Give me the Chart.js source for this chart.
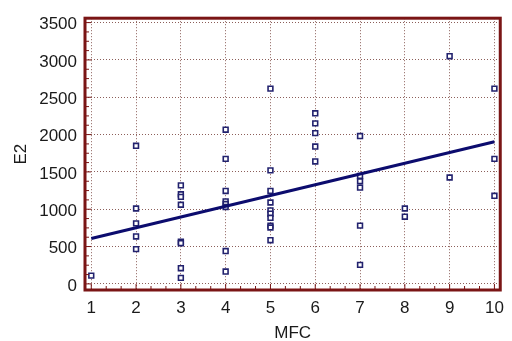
<!DOCTYPE html>
<html lang="en">
<head>
  <meta charset="UTF-8">
  <title>E2 vs MFC</title>
  <script src="https://cdn.jsdelivr.net/npm/chart.js"></script>
  <style>
    html, body { margin: 0; padding: 0; background: #fff; }
    #wrap { width: 512px; height: 341px; }
  </style>
</head>
<body>
<div id="wrap"><canvas id="chart" width="512" height="341"></canvas></div>
<script>
  // scatter points: MFC (x) and E2 (y)
  const mfc = [1,
    2, 2, 2, 2, 2,
    3, 3, 3, 3, 3, 3, 3, 3,
    4, 4, 4, 4, 4, 4, 4, 4,
    5, 5, 5, 5, 5, 5, 5, 5, 5, 5,
    6, 6, 6, 6, 6,
    7, 7, 7, 7, 7, 7,
    8, 8,
    9, 9,
    10, 10, 10];
  const e2 = [110,
    1850, 1010, 810, 635, 465,
    1320, 1200, 1165, 1060, 565, 545, 210, 80,
    2065, 1675, 1245, 1105, 1070, 1030, 440, 165,
    2615, 1520, 1245, 1090, 985, 940, 885, 780, 755, 585,
    2285, 2150, 2020, 1840, 1640,
    1980, 1445, 1375, 1290, 780, 255,
    1010, 900,
    3050, 1425,
    2615, 1675, 1180];

  // fitted line end points
  const fitX = [1, 10];
  const fitY = [607, 1903];

  const xTicks = [1, 2, 3, 4, 5, 6, 7, 8, 9, 10];
  const yTicks = [0, 500, 1000, 1500, 2000, 2500, 3000, 3500];

  const frameColor = '#7a1515';
  const gridColor = '#8c5f5a';
  const fontFamily = '"Liberation Sans", Arial, sans-serif';

  // frame round the plot plus small inner ticks on left and bottom
  const framePlugin = {
    id: 'frame',
    afterDraw(chart) {
      const { ctx, chartArea: a, scales } = chart;
      ctx.save();
      ctx.strokeStyle = frameColor;
      ctx.lineWidth = 1;
      // minor ticks on y
      for (let v = 0; v <= 3500; v += 125) {
        const y = scales.y.getPixelForValue(v);
        ctx.beginPath();
        ctx.moveTo(a.left, y);
        ctx.lineTo(a.left + (v % 500 === 0 ? 6 : 4), y);
        ctx.stroke();
      }
      // minor ticks on x
      for (let i = 0; i <= 27; i++) {
        const v = 1 + i / 3;
        const x = scales.x.getPixelForValue(v);
        ctx.beginPath();
        ctx.moveTo(x, a.bottom);
        ctx.lineTo(x, a.bottom - (i % 3 === 0 ? 6 : 4));
        ctx.stroke();
      }
      ctx.lineWidth = 3;
      ctx.strokeRect(a.left, a.top, a.right - a.left, a.bottom - a.top);
      ctx.restore();
    }
  };

  const points = mfc.map((x, i) => ({ x: x, y: e2[i] }));
  const fit = fitX.map((x, i) => ({ x: x, y: fitY[i] }));

  new Chart(document.getElementById('chart'), {
    type: 'scatter',
    data: {
      datasets: [
        {
          type: 'line',
          data: fit,
          borderColor: '#0c0c6e',
          borderWidth: 3,
          pointRadius: 0,
          fill: false
        },
        {
          data: points,
          pointStyle: 'rect',
          pointRadius: 3.4,
          pointBorderWidth: 1.6,
          pointBorderColor: '#22226e',
          pointBackgroundColor: '#ffffff'
        }
      ]
    },
    options: {
      responsive: false,
      animation: false,
      layout: { padding: { top: 12, right: 8, left: 0, bottom: 0 } },
      plugins: { legend: { display: false }, tooltip: { enabled: false } },
      scales: {
        x: {
          type: 'linear',
          min: 0.86,
          max: 10.13,
          afterBuildTicks: (s) => { s.ticks = xTicks.map(v => ({ value: v })); },
          afterFit: (s) => { s.height = 51; },
          grid: {
            color: gridColor,
            drawTicks: false
          },
          border: { display: false, dash: [1, 2] },
          ticks: {
            padding: 8,
            color: '#1a1a1a',
            font: { family: fontFamily, size: 17 },
            callback: (v) => String(v)
          },
          title: {
            display: true,
            text: 'MFC',
            color: '#1a1a1a',
            font: { family: fontFamily, size: 17 },
            padding: { top: 2, bottom: -3 }
          }
        },
        y: {
          min: -82,
          max: 3559,
          afterBuildTicks: (s) => { s.ticks = yTicks.map(v => ({ value: v })); },
          afterFit: (s) => { s.width = 85; },
          grid: {
            color: gridColor,
            drawTicks: false
          },
          border: { display: false, dash: [1, 2] },
          ticks: {
            padding: 8,
            labelOffset: 2,
            color: '#1a1a1a',
            font: { family: fontFamily, size: 17 },
            callback: (v) => String(v)
          },
          title: {
            display: true,
            text: 'E2',
            color: '#1a1a1a',
            font: { family: fontFamily, size: 17 },
            padding: { top: 11, bottom: 2 }
          }
        }
      }
    },
    plugins: [framePlugin]
  });
</script>
</body>
</html>
